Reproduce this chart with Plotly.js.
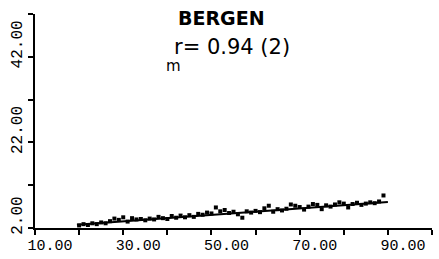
<!DOCTYPE html>
<html>
<head>
<meta charset="utf-8">
<script src="https://cdn.plot.ly/plotly-3.0.1.min.js"></script>
<style>html,body{margin:0;padding:0;background:#fff;}#chart{width:439px;height:259px;}</style>
</head>
<body>
<div id="chart"></div>
<script>
// Data
const xValues = [20,21,22,23,24,25,26,27,28,29,30,31,32,33,34,35,36,37,38,39,40,41,42,43,44,45,46,47,48,49,50,51,52,53,54,55,56,57,58,59,60,61,62,63,64,65,66,67,68,69,70,71,72,73,74,75,76,77,78,79,80,81,82,83,84,85,86,87,88,89];
const yValues = [2.6,2.9,2.7,3.1,2.9,3.3,3.1,3.6,4.2,3.9,4.5,3.5,4.3,4.0,4.1,3.8,4.2,4.0,4.6,4.3,4.1,4.8,4.4,4.9,4.5,5.0,4.6,5.3,5.1,5.6,5.4,6.8,5.9,6.2,5.5,5.8,5.2,4.4,5.9,5.6,6.0,5.7,6.6,7.2,5.8,6.4,6.1,6.5,7.5,7.2,6.9,6.3,7.0,7.6,7.4,6.4,7.3,7.0,7.5,8.0,7.7,6.8,7.6,7.9,7.4,7.7,8.0,7.8,8.2,9.6];
const fitX = [19.5, 90];
const fitY = [2.75, 8.1];
const xTickVals = [10,20,30,40,50,60,70,80,90,100];
const xTickText = ["10.00","","30.00","","50.00","","70.00","","90.00",""];
const yTickVals = [2,12,22,32,42,52];
const yTickText = ["2.00","","22.00","","42.00",""];
const titleText = "BERGEN";
const statText = "r= 0.94 (2)";
const subText = "m";

const traces = [
  {x: xValues, y: yValues, type: 'scatter', mode: 'markers',
   marker: {symbol: 'square', size: 4, color: '#000'}, showlegend: false, hoverinfo: 'skip'},
  {x: fitX, y: fitY, type: 'scatter', mode: 'lines',
   line: {color: '#000', width: 2}, showlegend: false, hoverinfo: 'skip'}
];

const layout = {
  width: 439, height: 259,
  margin: {l: 35, r: 7, t: 14, b: 31},
  paper_bgcolor: '#fff', plot_bgcolor: '#fff',
  showlegend: false,
  xaxis: {
    range: [10, 100], tickmode: 'array', tickvals: xTickVals, ticktext: xTickText,
    showline: true, linecolor: '#000', linewidth: 2, showgrid: false, zeroline: false,
    ticks: 'outside', ticklen: 5, tickwidth: 2, tickcolor: '#000',
    ticklabelshift: 15, ticklabelstandoff: -3,
    tickfont: {family: 'Liberation Mono, DejaVu Sans Mono, monospace', size: 15, color: '#000'}
  },
  yaxis: {
    range: [2, 52], tickmode: 'array', tickvals: yTickVals, ticktext: yTickText,
    showline: true, linecolor: '#000', linewidth: 2, showgrid: false, zeroline: false,
    ticks: 'outside', ticklen: 5, tickwidth: 2, tickcolor: '#000',
    tickangle: -90, ticklabelshift: -10, ticklabelstandoff: 0,
    tickfont: {family: 'Liberation Mono, DejaVu Sans Mono, monospace', size: 16, color: '#000'}
  },
  annotations: [
    {text: titleText, xref: 'paper', yref: 'paper', x: 0.471, y: 0.979, xanchor: 'center', yanchor: 'middle',
     showarrow: false, font: {family: 'DejaVu Sans', size: 19, color: '#000', weight: 'bold'}},
    {text: statText, xref: 'paper', yref: 'paper', x: 0.495, y: 0.846, xanchor: 'center', yanchor: 'middle',
     showarrow: false, font: {family: 'DejaVu Sans', size: 21, color: '#000'}},
    {text: subText, xref: 'paper', yref: 'paper', x: 0.350, y: 0.757, xanchor: 'center', yanchor: 'middle',
     showarrow: false, font: {family: 'DejaVu Sans', size: 15, color: '#000'}}
  ]
};

Plotly.newPlot('chart', traces, layout, {displayModeBar: false, staticPlot: true});
</script>
</body>
</html>
